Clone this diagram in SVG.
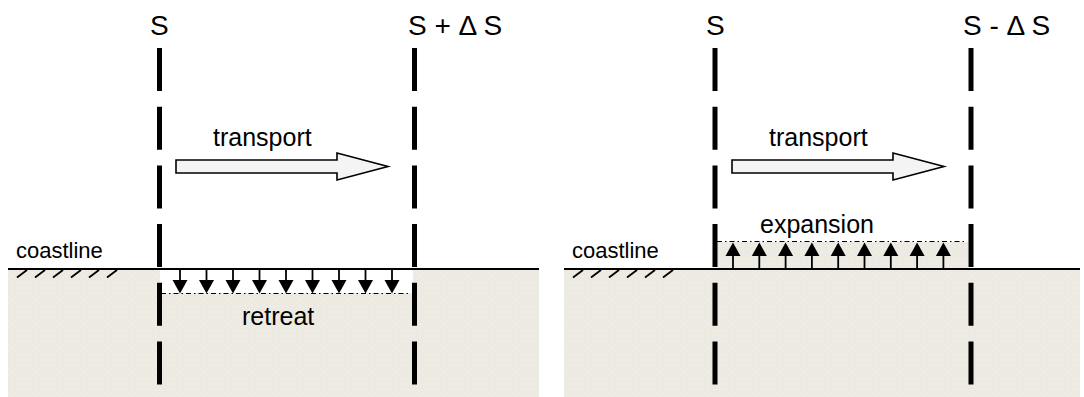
<svg xmlns="http://www.w3.org/2000/svg" width="1084" height="397" viewBox="0 0 1084 397">
<style>
.t{font-family:"Liberation Sans",Arial,sans-serif;fill:#000}
.sec{stroke:#000;stroke-width:5;stroke-dasharray:43 15.7;fill:none}
.coast{stroke:#000;stroke-width:2;fill:none}
.hatch{stroke:#000;stroke-width:1.8;fill:none}
.dd{stroke:#000;stroke-width:1.1;stroke-dasharray:5 3 1.5 3;fill:none}
.stem{stroke:#000;stroke-width:1.8;fill:none}
.blk{stroke:#000;stroke-width:1.6;fill:#f4f4f4}
</style>
<defs>
<pattern id="tex" width="6" height="6" patternUnits="userSpaceOnUse">
<rect width="6" height="6" fill="#efece5"/>
<circle cx="3" cy="3" r="2" fill="none" stroke="#e6e2d9" stroke-width="0.6"/>
</pattern>
<polygon id="hd" points="-7.5,0 7.5,0 0,13.5" fill="#000"/>
<polygon id="hu" points="-7.5,0 7.5,0 0,-13.5" fill="#000"/>
</defs>

<g id="panel-left">
<rect id="ground-left" x="8" y="269" width="531" height="128" fill="url(#tex)"/>
<rect id="retreat-zone" x="160" y="270" width="253" height="23" fill="#fff"/>
<line class="coast" x1="8" y1="269" x2="539" y2="269"/>
<g id="hatch-left" class="hatch">
<line x1="17" y1="277.5" x2="27" y2="270"/><line x1="35" y1="277.5" x2="45" y2="270"/><line x1="53" y1="277.5" x2="63" y2="270"/><line x1="71" y1="277.5" x2="81" y2="270"/><line x1="89" y1="277.5" x2="99" y2="270"/><line x1="107" y1="277.5" x2="117" y2="270"/>
</g>
<line class="dd" x1="161" y1="293.5" x2="410" y2="293.5"/>
<g id="retreat-arrows">
<g transform="translate(180,0)"><line class="stem" x1="0" y1="270" x2="0" y2="282"/><use href="#hd" y="280"/></g>
<g transform="translate(206.5,0)"><line class="stem" x1="0" y1="270" x2="0" y2="282"/><use href="#hd" y="280"/></g>
<g transform="translate(233,0)"><line class="stem" x1="0" y1="270" x2="0" y2="282"/><use href="#hd" y="280"/></g>
<g transform="translate(259.5,0)"><line class="stem" x1="0" y1="270" x2="0" y2="282"/><use href="#hd" y="280"/></g>
<g transform="translate(286,0)"><line class="stem" x1="0" y1="270" x2="0" y2="282"/><use href="#hd" y="280"/></g>
<g transform="translate(312.5,0)"><line class="stem" x1="0" y1="270" x2="0" y2="282"/><use href="#hd" y="280"/></g>
<g transform="translate(339,0)"><line class="stem" x1="0" y1="270" x2="0" y2="282"/><use href="#hd" y="280"/></g>
<g transform="translate(365.5,0)"><line class="stem" x1="0" y1="270" x2="0" y2="282"/><use href="#hd" y="280"/></g>
<g transform="translate(392,0)"><line class="stem" x1="0" y1="270" x2="0" y2="282"/><use href="#hd" y="280"/></g>
</g>
<line id="sec-S-left" class="sec" x1="159.5" y1="48" x2="159.5" y2="397"/>
<line id="sec-SdS-left" class="sec" x1="414.5" y1="48" x2="414.5" y2="397"/>
<polygon id="transport-left" class="blk" points="176,160 337,160 337,153 388,166.5 337,180 337,173 176,173"/>
<text class="t" x="150" y="35" font-size="28">S</text>
<text class="t" x="408" y="35" font-size="28">S + Δ S</text>
<text class="t" x="213" y="146" font-size="25">transport</text>
<text class="t" x="16" y="258" font-size="22">coastline</text>
<text class="t" x="242" y="325" font-size="25">retreat</text>
</g>

<g id="panel-right">
<rect id="ground-right" x="564" y="269" width="516" height="128" fill="url(#tex)"/>
<rect id="expansion-zone" x="717" y="242" width="251" height="27" fill="url(#tex)"/>
<line class="coast" x1="564" y1="269" x2="1080" y2="269"/>
<g id="hatch-right" class="hatch">
<line x1="573" y1="277.5" x2="583" y2="270"/><line x1="591" y1="277.5" x2="601" y2="270"/><line x1="609" y1="277.5" x2="619" y2="270"/><line x1="627" y1="277.5" x2="637" y2="270"/><line x1="645" y1="277.5" x2="655" y2="270"/><line x1="663" y1="277.5" x2="673" y2="270"/>
</g>
<line class="dd" x1="717" y1="241.5" x2="967" y2="241.5"/>
<g id="expansion-arrows">
<g transform="translate(733,0)"><line class="stem" x1="0" y1="269" x2="0" y2="256"/><use href="#hu" y="256"/></g>
<g transform="translate(759.3,0)"><line class="stem" x1="0" y1="269" x2="0" y2="256"/><use href="#hu" y="256"/></g>
<g transform="translate(785.6,0)"><line class="stem" x1="0" y1="269" x2="0" y2="256"/><use href="#hu" y="256"/></g>
<g transform="translate(811.9,0)"><line class="stem" x1="0" y1="269" x2="0" y2="256"/><use href="#hu" y="256"/></g>
<g transform="translate(838.2,0)"><line class="stem" x1="0" y1="269" x2="0" y2="256"/><use href="#hu" y="256"/></g>
<g transform="translate(864.5,0)"><line class="stem" x1="0" y1="269" x2="0" y2="256"/><use href="#hu" y="256"/></g>
<g transform="translate(890.8,0)"><line class="stem" x1="0" y1="269" x2="0" y2="256"/><use href="#hu" y="256"/></g>
<g transform="translate(917.1,0)"><line class="stem" x1="0" y1="269" x2="0" y2="256"/><use href="#hu" y="256"/></g>
<g transform="translate(943.4,0)"><line class="stem" x1="0" y1="269" x2="0" y2="256"/><use href="#hu" y="256"/></g>
</g>
<line id="sec-S-right" class="sec" x1="715" y1="48" x2="715" y2="397"/>
<line id="sec-SdS-right" class="sec" x1="971" y1="48" x2="971" y2="397"/>
<polygon id="transport-right" class="blk" points="732,160 893,160 893,153 944,166.5 893,180 893,173 732,173"/>
<text class="t" x="706" y="35" font-size="28">S</text>
<text class="t" x="963" y="35" font-size="28">S - Δ S</text>
<text class="t" x="769" y="146" font-size="25">transport</text>
<text class="t" x="572" y="258" font-size="22">coastline</text>
<text class="t" x="760" y="233" font-size="25">expansion</text>
</g>
</svg>
